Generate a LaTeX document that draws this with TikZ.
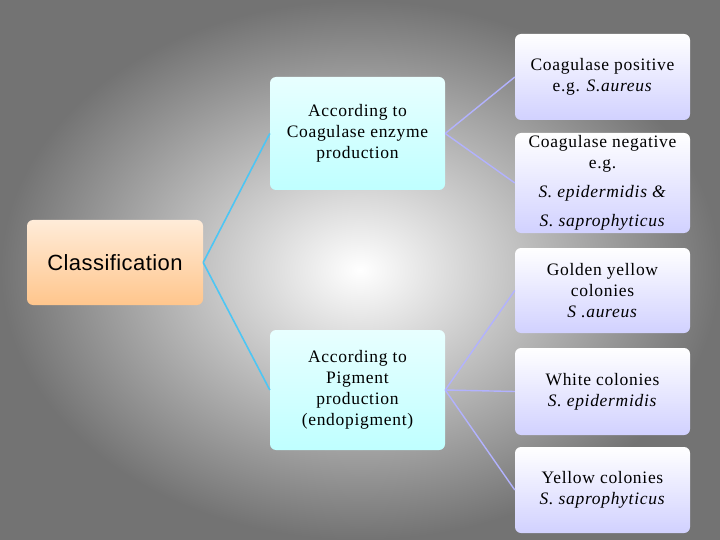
\documentclass[tikz,border=0pt]{standalone}
\usepackage{fontspec}
\setmainfont[LetterSpace=4]{Liberation Serif}
\newfontfamily\arialf[LetterSpace=2]{Liberation Sans}
\begin{document}
\begin{tikzpicture}[x=1pt,y=-1pt,
 box/.style={rounded corners=6pt,align=center,inner sep=2pt,font=\fontsize{17.5}{21}\selectfont},
 cyanbox/.style={box,top color=white!70!cyan!30,bottom color=cyan!25,draw=none},
 lavbox/.style={box,top color=white,bottom color=blue!18!white,draw=none},
 cline/.style={draw=cyan!70,line width=1.6pt},
 lline/.style={draw=blue!30!white,line width=1.4pt}]
\shade[inner color=white,outer color=black!55] (0,0) rectangle (720,540);
\path[use as bounding box] (0,0) rectangle (720,540);
\node[box,top color=orange!15,bottom color=orange!45,minimum width=176pt,minimum height=85pt,font=\arialf\fontsize{22}{26}\selectfont] (cl) at (115,262.5) {Classification};
\node[cyanbox,minimum width=175pt,minimum height=113pt] (co) at (357.5,133.5) {According to\\Coagulase enzyme\\production};
\node[cyanbox,minimum width=175pt,minimum height=120pt] (pi) at (357.5,390) {According to\\Pigment\\production\\(endopigment)};
\node[lavbox,minimum width=175pt,minimum height=86pt] (r1) at (602.5,77) {Coagulase positive\\e.g. \textit{S.aureus}};
\node[lavbox,minimum width=175pt,minimum height=100pt] (r2) at (602.5,183) {Coagulase negative\\e.g.\\[8pt]\textit{S. epidermidis \&}\\[8pt]\textit{S. saprophyticus}};
\node[lavbox,minimum width=175pt,minimum height=85pt] (r3) at (602.5,290.5) {Golden yellow\\colonies\\\textit{S .aureus}};
\node[lavbox,minimum width=175pt,minimum height=87pt] (r4) at (602.5,391.5) {White colonies\\\textit{S. epidermidis}};
\node[lavbox,minimum width=175pt,minimum height=86pt] (r5) at (602.5,490) {Yellow colonies\\\textit{S. saprophyticus}};
\draw[cline] (cl.east) -- (co.west);
\draw[cline] (cl.east) -- (pi.west);
\draw[lline] (co.east) -- (r1.west);
\draw[lline] (co.east) -- (r2.west);
\draw[lline] (pi.east) -- (r3.west);
\draw[lline] (pi.east) -- (r4.west);
\draw[lline] (pi.east) -- (r5.west);
\end{tikzpicture}
\end{document}
